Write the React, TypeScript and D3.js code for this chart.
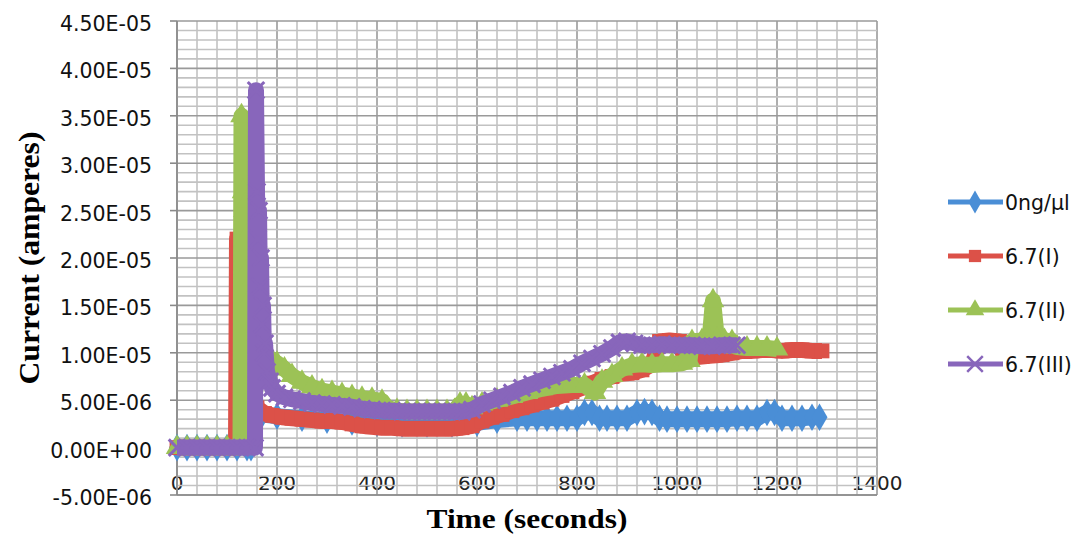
import * as d3 from "d3";
import { useEffect, useRef } from "react";

// x axis (seconds) and y axis (amperes)
const xTicks = [0, 200, 400, 600, 800, 1000, 1200, 1400];
const yTicks = [-5e-6, 0, 5e-6, 1e-5, 1.5e-5, 2e-5, 2.5e-5, 3e-5, 3.5e-5, 4e-5, 4.5e-5];
const yTickLabels = [
  "-5.00E-06", "0.00E+00", "5.00E-06", "1.00E-05", "1.50E-05", "2.00E-05",
  "2.50E-05", "3.00E-05", "3.50E-05", "4.00E-05", "4.50E-05",
];

const seriesNames = ["0ng/µl", "6.7(I)", "6.7(II)", "6.7(III)"];
const seriesColors = ["#4a8ed6", "#dc5148", "#9cc256", "#8866bb"];

// [time in s, current in µA]
const blank: [number, number][] = [
  [0, 0], [20, 0], [40, 0], [60, 0], [80, 0], [100, 0], [120, 0], [140, 0], [148, 0],
  [150, 3.6], [170, 3.5], [200, 3.3], [250, 3.1], [300, 2.9], [350, 2.7], [400, 2.6],
  [450, 2.5], [500, 2.5], [550, 2.5], [600, 2.6], [640, 2.9], [680, 3.1], [700, 3.1],
  [720, 3.1], [740, 3.1], [760, 3.1], [780, 3.1], [800, 3.1], [815, 3.7], [830, 3.7],
  [845, 3.1], [860, 3.1], [880, 3.1], [900, 3.1], [920, 3.7], [935, 3.8], [950, 3.7],
  [965, 3.1], [980, 3.0], [1000, 3.0], [1020, 3.0], [1040, 3.0], [1060, 3.0], [1080, 3.0],
  [1100, 3.0], [1120, 3.1], [1140, 3.1], [1160, 3.1], [1180, 3.7], [1195, 3.7], [1210, 3.1],
  [1230, 3.1], [1250, 3.1], [1270, 3.2], [1285, 3.2],
];

const run1: [number, number][] = [
  [0, 0], [20, 0], [40, 0], [60, 0], [80, 0], [100, 0], [118, 0], [120, 22], [123, 5],
  [126, 14.5], [130, 9], [140, 12], [146, 13.5], [150, 6], [156, 4.5], [160, 4.2],
  [175, 3.6], [190, 3.4], [210, 3.2], [230, 3.1], [250, 3.0], [270, 2.9], [290, 2.8],
  [310, 2.8], [330, 2.7], [350, 2.5], [370, 2.3], [390, 2.2], [410, 2.1], [430, 2.1],
  [450, 2.0], [470, 2.0], [490, 2.0], [510, 2.0], [530, 2.0], [550, 2.0], [570, 2.1],
  [590, 2.3], [610, 2.8], [630, 3.2], [650, 3.5], [670, 3.9], [690, 4.2], [710, 4.5],
  [730, 4.8], [750, 5.1], [770, 5.5], [790, 5.9], [810, 6.3], [830, 6.8], [850, 7.2],
  [870, 7.5], [890, 7.8], [910, 7.9], [930, 8.2], [950, 8.8], [965, 11.2], [985, 11.3],
  [1005, 11.2], [1015, 9.4], [1030, 9.5], [1050, 9.6], [1070, 9.7], [1090, 9.8],
  [1110, 10.0], [1130, 10.2], [1150, 10.2], [1170, 10.3], [1190, 10.3], [1210, 10.2],
  [1230, 10.3], [1250, 10.3], [1270, 10.2], [1290, 10.2],
];

const run2: [number, number][] = [
  [0, 0], [20, 0], [40, 0], [60, 0], [80, 0], [100, 0], [120, 0], [127, 0], [129, 35],
  [132, 27], [135, 25], [138, 22], [141, 26], [144, 19], [147, 23], [150, 16], [154, 18],
  [158, 13], [162, 12], [166, 10.5], [172, 9.8], [180, 9.5], [190, 9.2], [200, 8.9],
  [215, 8.3], [230, 7.6], [250, 6.9], [270, 6.4], [290, 6.0], [310, 5.8], [330, 5.6],
  [350, 5.4], [370, 5.2], [390, 5.1], [410, 4.9], [420, 4.2], [440, 3.9], [460, 3.8],
  [480, 3.8], [500, 3.8], [520, 3.8], [540, 3.8], [555, 3.9], [566, 4.6], [578, 4.6],
  [590, 4.2], [610, 4.6], [640, 5.0], [670, 5.4], [700, 5.8], [730, 6.2], [760, 6.5],
  [790, 6.6], [815, 6.6], [836, 5.8], [850, 7.0], [870, 7.6], [890, 8.3], [910, 8.7],
  [930, 8.8], [950, 8.7], [970, 8.8], [990, 8.8], [1010, 8.9], [1025, 9.2], [1030, 11.2],
  [1050, 11.3], [1065, 11.3], [1072, 15.5], [1080, 11.4], [1095, 11.3], [1110, 11.2],
  [1120, 10.6], [1140, 10.5], [1160, 10.5], [1180, 10.5], [1200, 10.4],
];

const run3: [number, number][] = [
  [0, 0], [20, 0], [40, 0], [60, 0], [80, 0], [100, 0], [120, 0], [140, 0], [156, 0],
  [158, 37.7], [160, 27], [162, 22], [164, 25], [166, 17], [168, 20], [170, 13], [172, 15],
  [174, 10], [176, 11], [180, 8], [186, 7], [190, 6.3], [200, 5.7], [215, 5.3], [230, 5.1],
  [250, 4.9], [270, 4.7], [290, 4.6], [310, 4.5], [330, 4.4], [350, 4.3], [370, 4.1],
  [390, 4.0], [410, 3.9], [430, 3.9], [450, 3.8], [470, 3.8], [490, 3.8], [510, 3.8],
  [530, 3.8], [550, 3.8], [570, 3.8], [590, 4.0], [610, 4.6], [630, 5.0], [650, 5.4],
  [670, 5.8], [690, 6.3], [710, 6.7], [730, 7.1], [750, 7.5], [770, 7.9], [790, 8.3],
  [810, 8.9], [830, 9.4], [850, 9.9], [870, 10.5], [885, 11.1], [900, 11.2], [915, 11.0],
  [930, 10.8], [950, 10.8], [970, 10.9], [990, 10.8], [1010, 10.8], [1030, 10.8],
  [1050, 10.7], [1070, 10.7], [1090, 10.8], [1110, 10.8], [1120, 10.8],
];

const seriesData = [blank, run1, run2, run3];

const W = 1082;
const H = 539;

export default function App() {
  const svgRef = useRef<SVGSVGElement>(null);

  useEffect(() => {
    if (!svgRef.current) return;
    const svg = d3.select(svgRef.current);
    svg.selectAll("*").remove();

    const x = d3.scaleLinear().domain([0, 1400]).range([177, 877]);
    const y = d3.scaleLinear().domain([-5e-6, 4.5e-5]).range([495, 21]);
    const sans = "'DejaVu Sans', sans-serif";

    svg.append("rect").attr("width", W).attr("height", H).attr("fill", "#fff");

    // x tick labels sit inside the plot, under the grid
    svg
      .append("g")
      .selectAll("text")
      .data(xTicks)
      .join("text")
      .attr("x", (d) => x(d))
      .attr("y", 490)
      .attr("text-anchor", "middle")
      .style("font-family", sans)
      .style("font-size", "20px")
      .style("fill", "#222")
      .text((d) => d);

    // grid
    const grid = svg.append("g");
    const minorX = d3.range(0, 1401, 40);
    const minorY = d3.range(-5, 46, 1).map((d) => d * 1e-6);
    grid
      .selectAll(".vx")
      .data(minorX)
      .join("line")
      .attr("x1", (d) => x(d))
      .attr("x2", (d) => x(d))
      .attr("y1", y(4.5e-5))
      .attr("y2", y(-5e-6))
      .attr("stroke", (d) => (d % 200 === 0 ? "#9a9a9a" : "#c2c2c2"))
      .attr("stroke-width", 1.6);
    grid
      .selectAll(".hy")
      .data(minorY)
      .join("line")
      .attr("x1", x(0))
      .attr("x2", x(1400))
      .attr("y1", (d) => y(d))
      .attr("y2", (d) => y(d))
      .attr("stroke", (_, i) => (i % 5 === 0 ? "#9a9a9a" : "#c2c2c2"))
      .attr("stroke-width", 1.6);

    // axes
    svg
      .append("line")
      .attr("x1", x(0))
      .attr("x2", x(0))
      .attr("y1", y(4.5e-5))
      .attr("y2", y(-5e-6))
      .attr("stroke", "#8a8a8a")
      .attr("stroke-width", 1.6);
    svg
      .append("line")
      .attr("x1", x(0))
      .attr("x2", x(1400))
      .attr("y1", y(-5e-6))
      .attr("y2", y(-5e-6))
      .attr("stroke", "#8a8a8a")
      .attr("stroke-width", 1.6);
    svg
      .append("g")
      .selectAll("line")
      .data(yTicks)
      .join("line")
      .attr("x1", x(0) - 7)
      .attr("x2", x(0))
      .attr("y1", (d) => y(d))
      .attr("y2", (d) => y(d))
      .attr("stroke", "#8a8a8a")
      .attr("stroke-width", 1.6);

    // series
    const symbols = [d3.symbolDiamond, d3.symbolSquare, d3.symbolTriangle, d3.symbolTimes];
    const line = d3
      .line<[number, number]>()
      .x((d) => x(d[0]))
      .y((d) => y(d[1] * 1e-6));

    seriesData.forEach((data, i) => {
      const g = svg.append("g");
      g.append("path")
        .datum(data)
        .attr("d", line)
        .attr("fill", "none")
        .attr("stroke", seriesColors[i])
        .attr("stroke-width", 16)
        .attr("stroke-linejoin", "round");
      const sym = d3.symbol().type(symbols[i]).size(i === 3 ? 180 : 220);
      g.selectAll("path.m")
        .data(data)
        .join("path")
        .attr("class", "m")
        .attr("transform", (d) => `translate(${x(d[0])},${y(d[1] * 1e-6)})`)
        .attr("d", sym)
        .attr("fill", i === 3 ? "none" : seriesColors[i])
        .attr("stroke", seriesColors[i])
        .attr("stroke-width", i === 3 ? 3 : 0);
    });

    // y tick labels
    svg
      .append("g")
      .selectAll("text")
      .data(yTicks)
      .join("text")
      .attr("x", 152)
      .attr("y", (d) => y(d) + 10)
      .attr("text-anchor", "end")
      .style("font-family", sans)
      .style("font-size", "20.5px")
      .style("fill", "#111")
      .text((_, i) => yTickLabels[i]);

    // titles
    svg
      .append("text")
      .attr("x", 527)
      .attr("y", 528)
      .attr("text-anchor", "middle")
      .attr("textLength", 201)
      .attr("lengthAdjust", "spacingAndGlyphs")
      .style("font-family", "'Liberation Serif', serif")
      .style("font-weight", "bold")
      .style("font-size", "27px")
      .text("Time (seconds)");

    svg
      .append("text")
      .attr("transform", "translate(39,258) rotate(-90)")
      .attr("text-anchor", "middle")
      .attr("textLength", 253)
      .attr("lengthAdjust", "spacingAndGlyphs")
      .style("font-family", "'Liberation Serif', serif")
      .style("font-weight", "bold")
      .style("font-size", "30px")
      .text("Current (amperes)");

    // legend
    const legend = svg.append("g");
    seriesNames.forEach((name, i) => {
      const ly = 202 + i * 54;
      legend
        .append("line")
        .attr("x1", 948)
        .attr("x2", 1003)
        .attr("y1", ly)
        .attr("y2", ly)
        .attr("stroke", seriesColors[i])
        .attr("stroke-width", 5);
      legend
        .append("path")
        .attr("transform", `translate(975,${ly})`)
        .attr("d", d3.symbol().type(symbols[i]).size(i === 3 ? 160 : 150)())
        .attr("fill", i === 3 ? "none" : seriesColors[i])
        .attr("stroke", seriesColors[i])
        .attr("stroke-width", i === 3 ? 2.5 : 0);
      legend
        .append("text")
        .attr("x", 1005)
        .attr("y", ly + 7.5)
        .style("font-family", sans)
        .style("font-size", "20.5px")
        .style("fill", "#111")
        .text(name);
    });
  }, []);

  return (
    <div style={{ position: "absolute", left: 0, top: 0, width: W, height: H }}>
      <svg ref={svgRef} width={W} height={H} />
    </div>
  );
}
